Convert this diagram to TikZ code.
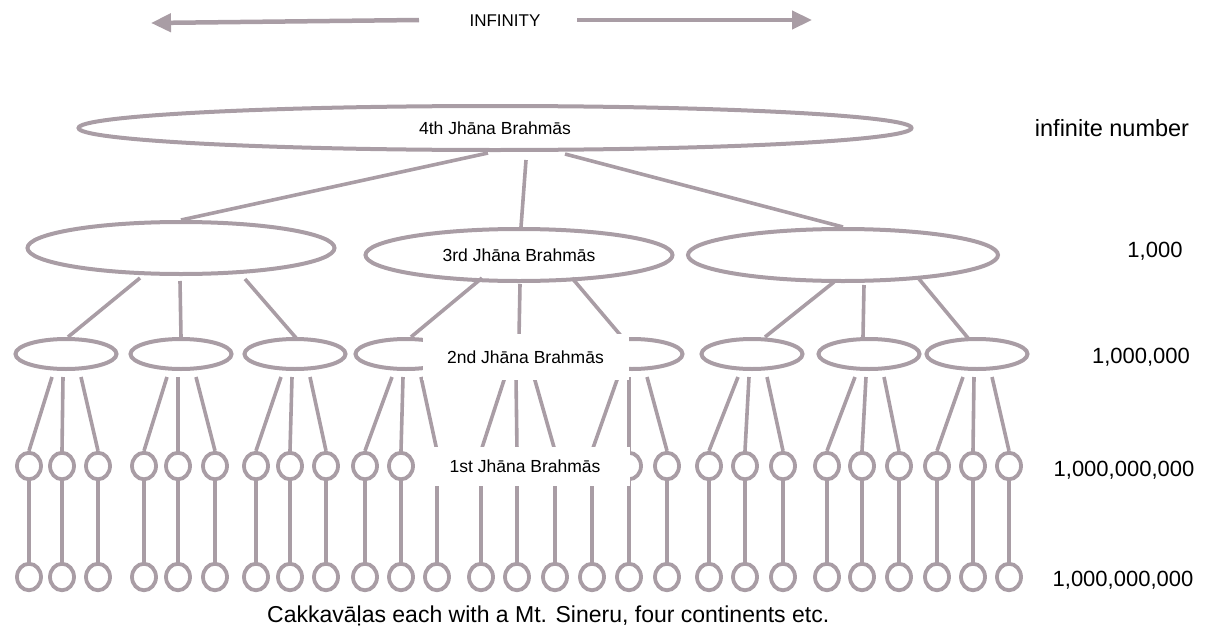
\documentclass[tikz,border=0pt]{standalone}
\usepackage{fontspec}
\setmainfont{Liberation Sans}
\usetikzlibrary{shapes.geometric,arrows.meta,calc}
\definecolor{mauve}{RGB}{169,157,165}
\begin{document}
\begin{tikzpicture}[x=1pt,y=-1pt,
  ell/.style={ellipse,draw=mauve,line width=4pt,inner sep=0pt},
  conn/.style={draw=mauve,line width=3.6pt},
  ring/.style={ellipse,draw=mauve,line width=3.8pt,minimum width=24pt,minimum height=26.5pt,inner sep=0pt},
  lab/.style={font=\fontsize{17.5}{20}\selectfont,text=black},
  num/.style={font=\fontsize{22}{26}\selectfont,text=black,inner sep=0pt},
  cover/.style={fill=white,inner sep=0pt,lab},
  bigarrow/.style={draw=mauve,line width=4.5pt,-{Triangle[length=20pt,width=18pt]}}
]
\useasboundingbox (0,0) rectangle (1207,629);

% top arrows
\node[lab,font=\fontsize{17}{20}\selectfont] (inf) at (505,21) {INFINITY};
\coordinate (la) at (419,20);
\coordinate (lt) at (151,23);
\coordinate (ra) at (577,20);
\coordinate (rt) at (812,20);
\draw[bigarrow] (la) -- (lt);
\draw[bigarrow] (ra) -- (rt);

% level 4
\node[ell,minimum width=833pt,minimum height=44pt,lab] (t4) at (495,128) {4th Jhāna Brahmās};

% level 3
\node[ell,minimum width=307pt,minimum height=52pt] (e3a) at (181,248) {};
\node[ell,minimum width=307pt,minimum height=52pt,lab] (e3b) at (519,255) {3rd Jhāna Brahmās};
\node[ell,minimum width=310pt,minimum height=52pt] (e3c) at (843,255) {};

\draw[conn] ($(t4.south)+(-7,1)$) -- (e3a.north);
\draw[conn] ($(t4.south)+(31,8)$) -- ($(e3b.north)+(2,0)$);
\draw[conn] ($(t4.south)+(70,2)$) -- (e3c.north);

% level 2
\foreach \p [count=\i] in {66,181,295,406,519,632,752,869,977}
  \node[ell,minimum width=101pt,minimum height=30pt] (m\i) at (\p,354) {};

\draw[conn] ($(e3a.center)+(-41,30)$) -- ($(m1.north)+(2,0)$);
\draw[conn] ($(e3a.center)+(-1,33)$) -- (m2.north);
\draw[conn] ($(e3a.center)+(64,31)$) -- ($(m3.north)+(2,2)$);
\draw[conn] ($(e3b.center)+(-37,23)$) -- ($(m4.north)+(5,0)$);
\draw[conn] ($(e3b.center)+(1,29)$) -- (m5.north);
\draw[conn] ($(e3b.center)+(53,23)$) -- ($(m6.north)+(-10,0)$);
\draw[conn] ($(e3c.center)+(-9,27)$) -- ($(m7.north)+(13,0)$);
\draw[conn] ($(e3c.center)+(21,30)$) -- ($(m8.north)+(-6,0)$);
\draw[conn] ($(e3c.center)+(76,24)$) -- ($(m9.north)+(-9,1)$);

% level 1 and bottom cakkavalas
\foreach \x [count=\i] in {29,62,98,144,178,215,256,290,326,365,401,437,481,517,555,592,629,667,709,745,783,827,862,899,937,973,1009}{
  \node[ring] (a\i) at (\x,466) {};
  \node[ring] (b\i) at (\x,577) {};
  \draw[conn] (a\i.south) -- (b\i.north);
}

\foreach \i in {1,...,9}{
  \pgfmathtruncatemacro\ja{3*\i-2}
  \pgfmathtruncatemacro\jb{3*\i-1}
  \pgfmathtruncatemacro\jc{3*\i}
  \draw[conn] ($(m\i.center)+(-14,23)$) -- (a\ja.north);
  \draw[conn] ($(m\i.center)+(-3,23)$) -- (a\jb.north);
  \draw[conn] ($(m\i.center)+(15,23)$) -- (a\jc.north);
}

% label boxes covering the middle
\node[cover,minimum width=206pt,minimum height=46pt] (lab2) at (525.5,357) {2nd Jhāna Brahmās};
\node[cover,minimum width=210pt,minimum height=39pt] (lab1) at (525,466.5) {1st Jhāna Brahmās};

% right column numbers
\node[num,font=\fontsize{23.5}{26}\selectfont] (n4) at (1112,128) {infinite number};
\node[num] (n3) at (1155,251) {1,000};
\node[num] (n2) at (1141,357) {1,000,000};
\node[num] (n1) at (1124,470) {1,000,000,000};
\node[num] (n0) at (1123,580) {1,000,000,000};

% caption
\node[num,font=\fontsize{23}{26}\selectfont,anchor=base west] (cap) at (267,622) {Cakkavāḷas each with a Mt. Sineru, four continents etc.};
\end{tikzpicture}
\end{document}
